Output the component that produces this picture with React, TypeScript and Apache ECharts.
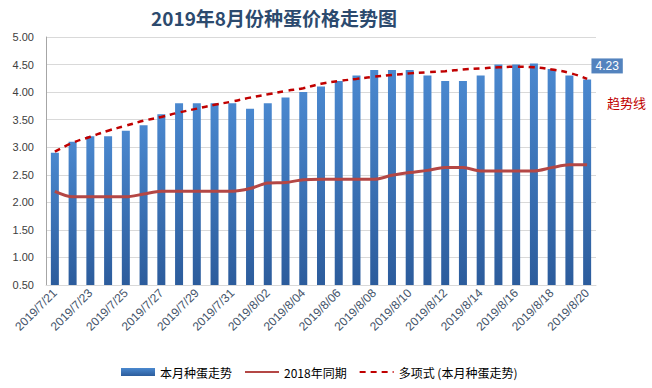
import React, { useEffect, useRef } from "react";
import * as echarts from "echarts";

const categories: string[] = [
  "2019/7/21", "2019/7/22", "2019/7/23", "2019/7/24", "2019/7/25", "2019/7/26",
  "2019/7/27", "2019/7/28", "2019/7/29", "2019/7/30", "2019/7/31",
  "2019/8/01", "2019/8/02", "2019/8/03", "2019/8/04", "2019/8/05", "2019/8/06",
  "2019/8/07", "2019/8/08", "2019/8/09", "2019/8/10", "2019/8/11", "2019/8/12",
  "2019/8/13", "2019/8/14", "2019/8/15", "2019/8/16", "2019/8/17", "2019/8/18",
  "2019/8/19", "2019/8/20",
];

const currentPrices: number[] = [
  2.9, 3.1, 3.2, 3.2, 3.3, 3.4, 3.6, 3.8, 3.8, 3.8, 3.8, 3.7, 3.8, 3.9, 4.0, 4.1,
  4.2, 4.3, 4.4, 4.4, 4.4, 4.3, 4.2, 4.2, 4.3, 4.5, 4.5, 4.52, 4.42, 4.3, 4.23,
];

const lastYearPrices: number[] = [
  2.2, 2.1, 2.1, 2.1, 2.1, 2.15, 2.2, 2.2, 2.2, 2.2, 2.2, 2.25, 2.35, 2.36, 2.41, 2.42,
  2.42, 2.42, 2.42, 2.49, 2.54, 2.58, 2.63, 2.63, 2.57, 2.57, 2.57, 2.57, 2.63, 2.68, 2.68,
];

const trendValues: number[] = [
  2.92, 3.08, 3.19, 3.3, 3.39, 3.48, 3.55, 3.63, 3.7, 3.77, 3.83, 3.9, 3.96, 4.02, 4.07, 4.15,
  4.2, 4.24, 4.28, 4.31, 4.34, 4.36, 4.38, 4.41, 4.43, 4.45, 4.46, 4.45, 4.41, 4.35, 4.24,
];

const titleText = "2019年8月份种蛋价格走势图";
const seriesNames = ["本月种蛋走势", "2018年同期", "多项式 (本月种蛋走势)"];
const trendNote = "趋势线";

const FONT = "'Noto Sans CJK SC', 'Noto Sans', sans-serif";
const NUMFONT = "'Liberation Sans', sans-serif";

export default function App() {
  const ref = useRef<HTMLDivElement>(null);

  useEffect(() => {
    if (!ref.current) return;
    const chart = echarts.init(ref.current, null, { renderer: "svg" });
    const lastIdx = currentPrices.length - 1;
    const barData = currentPrices.map((v, i) =>
      i === lastIdx
        ? {
            value: v,
            label: {
              show: true,
              position: "top",
              distance: 5,
              offset: [20, -1],
              color: "#ffffff",
              backgroundColor: "#5383be",
              padding: [2, 4, 1, 4],
              fontSize: 12,
              fontFamily: NUMFONT,
              formatter: (p: any) => p.value.toFixed(2),
            },
          }
        : v
    );

    chart.setOption({
      animation: false,
      textStyle: { fontFamily: FONT },
      title: {
        text: titleText,
        left: 146,
        top: 3,
        textStyle: {
          fontSize: 19,
          fontWeight: "bold",
          color: "#2c4a6e",
          fontFamily: FONT,
        },
      },
      grid: { left: 46, right: 56, top: 37, bottom: 103, containLabel: false },
      legend: {
        left: 116,
        top: 361,
        itemGap: 12,
        itemWidth: 34,
        itemHeight: 8,
        textStyle: { fontSize: 12, color: "#000000", fontFamily: FONT },
        data: [
          { name: seriesNames[0], icon: "rect" },
          { name: seriesNames[1], itemStyle: { opacity: 0 } },
          { name: seriesNames[2], itemStyle: { opacity: 0 } },
        ],
      },
      xAxis: {
        type: "category",
        data: categories,
        boundaryGap: true,
        axisLine: { show: true, lineStyle: { color: "#d9d9d9" } },
        axisTick: { show: false },
        axisLabel: {
          interval: 1,
          rotate: 45,
          fontSize: 12,
          color: "#44546a",
          margin: 6,
          fontFamily: NUMFONT,
        },
      },
      yAxis: {
        type: "value",
        min: 0.5,
        max: 5,
        interval: 0.5,
        axisLine: { show: true, lineStyle: { color: "#a6a6a6" } },
        axisTick: { show: false },
        splitLine: { lineStyle: { color: "#d9d9d9" } },
        axisLabel: {
          fontSize: 11,
          color: "#404040",
          margin: 12,
          fontFamily: NUMFONT,
          formatter: (v: number) => v.toFixed(2),
        },
      },
      series: [
        {
          name: seriesNames[0],
          type: "bar",
          barWidth: 8,
          data: barData,
          itemStyle: {
            color: new echarts.graphic.LinearGradient(0, 0, 0, 1, [
              { offset: 0, color: "#4a88cf" },
              { offset: 1, color: "#2c5c9c" },
            ]),
          },
        },
        {
          name: seriesNames[1],
          type: "line",
          data: lastYearPrices,
          smooth: 0.3,
          symbol: "none",
          lineStyle: { color: "#b44745", width: 3 },
          itemStyle: { color: "#b44745" },
        },
        {
          name: seriesNames[2],
          type: "line",
          data: trendValues,
          smooth: true,
          symbol: "none",
          lineStyle: { color: "#c00000", width: 2.5, type: [6, 5] },
          itemStyle: { color: "#c00000" },
          z: 5,
        },
      ],
      graphic: [
        {
          type: "text",
          left: 607,
          top: 96,
          style: {
            text: trendNote,
            fill: "#c00000",
            fontSize: 13,
            fontFamily: FONT,
          },
        },
      ],
    });
    return () => chart.dispose();
  }, []);

  return (
    <div
      ref={ref}
      style={{ position: "fixed", left: 0, top: 0, width: 652, height: 388, background: "#ffffff" }}
    />
  );
}
